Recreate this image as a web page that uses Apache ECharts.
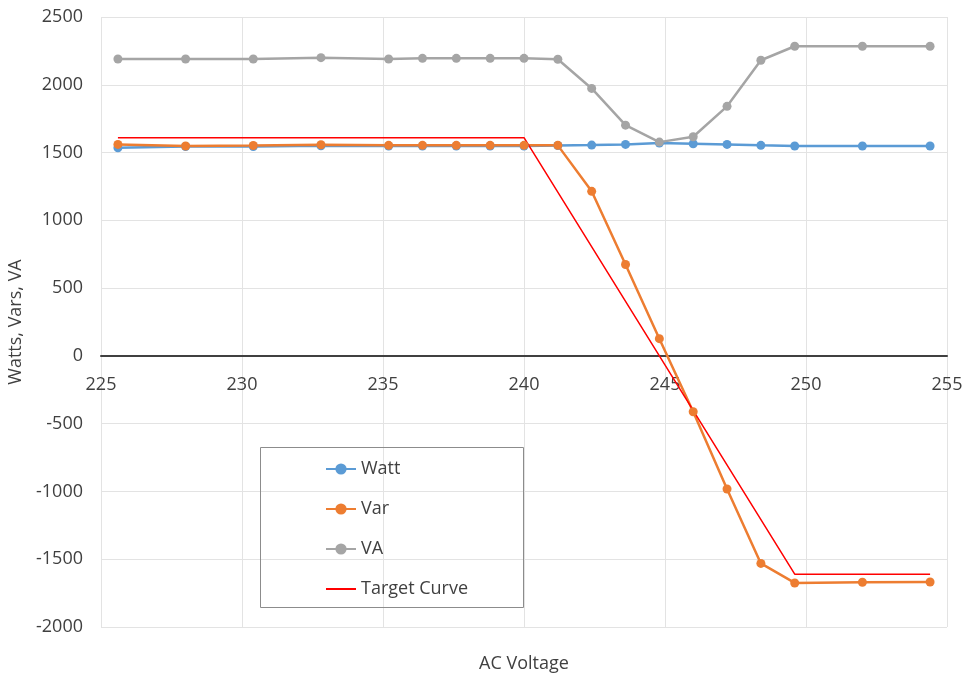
<!DOCTYPE html>
<html>
<head>
<meta charset="utf-8">
<script src="https://cdn.jsdelivr.net/npm/echarts@6/dist/echarts.min.js"></script>
<style>
  html, body { margin: 0; padding: 0; background: #fff; }
  #chart { width: 964px; height: 674px; }
</style>
</head>
<body>
<div id="chart"></div>
<script>
// AC voltage at each measurement
const voltage = [225.6, 228.0, 230.4, 232.8, 235.2, 236.4, 237.6, 238.8, 240.0, 241.2,
  242.4, 243.6, 244.8, 246.0, 247.2, 248.4, 249.6, 252.0, 254.4];
const watt = [1535, 1545, 1545, 1550, 1548, 1548, 1548, 1548, 1548, 1552,
  1555, 1560, 1570, 1565, 1560, 1553, 1548, 1548, 1548];
const vars = [1560, 1548, 1552, 1558, 1553, 1553, 1553, 1553, 1553, 1553,
  1214, 674, 127, -412, -982, -1531, -1675, -1670, -1668];
const va = [2190, 2190, 2190, 2200, 2190, 2195, 2195, 2195, 2195, 2188,
  1973, 1702, 1577, 1617, 1841, 2181, 2284, 2284, 2284];
// target curve (volt-var)
const targetVoltage = [225.6, 240.0, 249.6, 254.4];
const targetValue = [1610, 1610, -1610, -1610];

const pairs = (xs, ys) => xs.map((x, i) => [x, ys[i]]);

const textColor = '#404040';
const font = 'Open Sans';
const fs = 18;

const chart = echarts.init(document.getElementById('chart'));
chart.setOption({
  animation: false,
  grid: { left: 101, right: 17, top: 17, bottom: 47, outerBoundsMode: 'none', containLabel: false },
  xAxis: [
    {
      // axis drawn on the zero line with its labels
      type: 'value',
      min: 225, max: 255, interval: 5,
      offset: -271,
      axisLine: { show: true, onZero: false, lineStyle: { color: '#404040', width: 2 } },
      axisTick: { show: false },
      axisLabel: { color: textColor, fontSize: fs, fontFamily: font, margin: 20, formatter: v => String(v) },
      splitLine: { show: true, lineStyle: { color: '#e3e3e3', width: 1 } }
    },
    {
      // bottom axis carrying only the title
      type: 'value',
      position: 'bottom',
      min: 225, max: 255, interval: 5,
      name: 'AC Voltage',
      nameLocation: 'middle',
      nameGap: 28,
      nameTextStyle: { color: textColor, fontSize: fs, fontFamily: font },
      axisLine: { show: false, onZero: false },
      axisTick: { show: false },
      axisLabel: { show: false },
      splitLine: { show: false }
    }
  ],
  yAxis: {
    type: 'value',
    min: -2000, max: 2500, interval: 500,
    name: 'Watts, Vars, VA',
    nameLocation: 'middle',
    nameGap: 67,
    nameRotate: 90,
    nameTextStyle: { color: textColor, fontSize: fs, fontFamily: font },
    axisLine: { show: false },
    axisTick: { show: false },
    axisLabel: { color: textColor, fontSize: fs, fontFamily: font, margin: 18, formatter: v => String(v) },
    splitLine: { show: true, lineStyle: { color: '#e3e3e3', width: 1 } }
  },
  graphic: [{
    type: 'rect',
    left: 260, top: 447,
    shape: { width: 263, height: 160 },
    style: { fill: 'rgba(0,0,0,0)', stroke: '#8c8c8c', lineWidth: 1 },
    z: 10
  }],
  legend: {
    orient: 'vertical',
    left: 325, top: 460,
    padding: 0,
    itemWidth: 30, itemHeight: 14, itemGap: 22,
    textStyle: { color: textColor, fontSize: fs, fontFamily: font },
    data: ['Watt', 'Var', 'VA', { name: 'Target Curve', itemStyle: { opacity: 0 } }]
  },
  series: [
    {
      name: 'Watt', type: 'line', data: pairs(voltage, watt),
      symbol: 'circle', symbolSize: 9,
      itemStyle: { color: '#5B9BD5' }, lineStyle: { width: 2.5 }
    },
    {
      name: 'Var', type: 'line', data: pairs(voltage, vars),
      symbol: 'circle', symbolSize: 9,
      itemStyle: { color: '#ED7D31' }, lineStyle: { width: 2.5 }
    },
    {
      name: 'VA', type: 'line', data: pairs(voltage, va),
      symbol: 'circle', symbolSize: 9,
      itemStyle: { color: '#A5A5A5' }, lineStyle: { width: 2.5 }
    },
    {
      name: 'Target Curve', type: 'line', data: pairs(targetVoltage, targetValue),
      symbol: 'none',
      itemStyle: { color: '#FF0000' }, lineStyle: { width: 1.5 }
    }
  ]
});
</script>
</body>
</html>
